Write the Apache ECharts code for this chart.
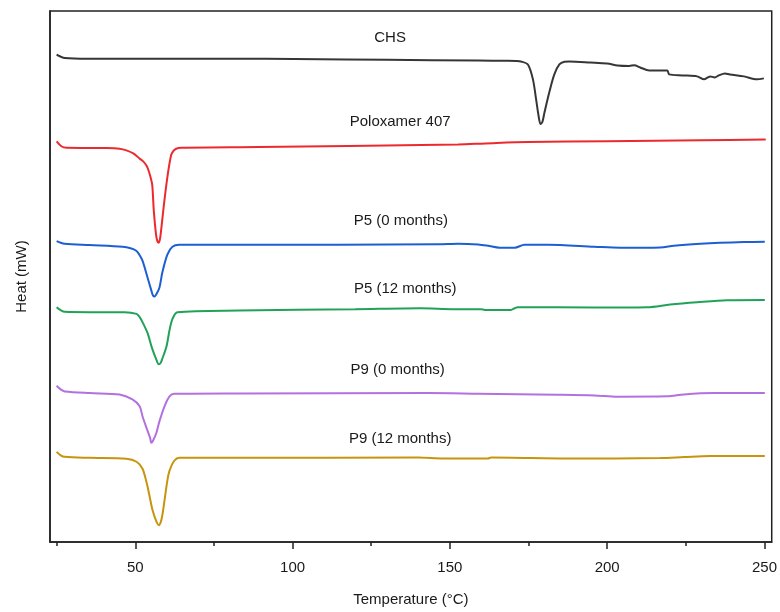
<!DOCTYPE html>
<html>
<head>
<meta charset="utf-8">
<script src="https://cdn.jsdelivr.net/npm/echarts@6/dist/echarts.min.js"></script>
<style>
html,body{margin:0;padding:0;background:#fff;}
#chart{width:780px;height:612px;}
</style>
</head>
<body>
<div id="chart"></div>
<script>
// ---- Data (temperature in °C, heat in arbitrary mW units) ----
var seriesNames = ['CHS', 'Poloxamer 407', 'P5 (0 months)', 'P5 (12 months)', 'P9 (0 months)', 'P9 (12 months)'];
var xTickValues = [50, 100, 150, 200, 250];
var xMinorTickValues = [25, 75, 125, 175, 225];

var chsT = [25.0, 27.6, 35, 60, 83, 100.4, 100.5, 130, 159, 168, 171, 172.6, 174.8, 176.4, 177.4, 178.2, 178.8, 179.4, 180.1, 181.6, 183.2, 184.8, 186.4, 188, 194.7, 200, 203.3, 207, 208.6, 210.5, 213.4, 219.1, 219.7, 224, 228.6, 230.8, 232, 232.7, 234.2, 235.5, 237.4, 239, 243.5, 247.6, 249.8];
var chsH = [-5.5, -5.85, -5.93, -5.93, -5.93, -5.95, -6.0, -6.03, -6.1, -6.13, -6.15, -6.2, -6.5, -8.0, -10.0, -11.7, -12.5, -12.3, -11.3, -9.3, -7.5, -6.5, -6.23, -6.2, -6.3, -6.4, -6.6, -6.65, -6.57, -6.8, -7.1, -7.1, -7.5, -7.6, -7.7, -8.0, -7.8, -7.7, -7.8, -7.6, -7.4, -7.5, -7.7, -8.0, -7.9];

var poloT = [25.0, 26.5, 28.2, 40.9, 45.0, 47.2, 49.5, 51.4, 52.6, 53.5, 54.0, 54.8, 55.4, 55.9, 56.6, 57.0, 57.4, 57.8, 58.2, 59.1, 60.3, 61.4, 62.2, 63.0, 64.5, 89.3, 117.8, 152.6, 161.2, 174.8, 200, 230, 250.4];
var poloH = [-14.27, -14.75, -14.9, -14.93, -15.0, -15.17, -15.5, -16.0, -16.3, -16.67, -17.0, -17.8, -18.67, -21.3, -23.67, -24.3, -24.5, -24.2, -23.3, -20.67, -17.67, -15.67, -15.2, -15.0, -14.9, -14.83, -14.73, -14.57, -14.47, -14.33, -14.25, -14.15, -14.07];

var p5aT = [25.0, 26.3, 27.6, 35.5, 46.0, 48.5, 50.3, 51.3, 52.3, 53.9, 55.1, 55.6, 56.1, 56.7, 57.7, 58.6, 60.2, 61.8, 64.0, 83, 146.3, 152.6, 159, 162.1, 165.8, 167.4, 170.6, 173.7, 181.1, 195.9, 204.2, 216.9, 221.2, 229.6, 235.8, 243.4, 250.1];
var p5aH = [-24.33, -24.5, -24.6, -24.73, -24.9, -25.05, -25.3, -25.7, -26.3, -28.0, -29.3, -29.8, -29.93, -29.7, -29.0, -27.5, -25.7, -24.9, -24.7, -24.7, -24.65, -24.6, -24.67, -24.8, -25.0, -25.0, -25.0, -24.7, -24.7, -24.9, -25.0, -24.97, -24.8, -24.6, -24.5, -24.43, -24.4];

var p5bT = [25.0, 26.3, 27.6, 35.5, 46.6, 50.4, 51.4, 52.3, 53.9, 55.2, 56.7, 57.5, 58.1, 58.6, 59.9, 60.9, 61.8, 63.4, 83.0, 119.9, 140.5, 151.6, 159.9, 161.1, 169.4, 170.6, 171.6, 195.9, 212.7, 220.0, 228.6, 238.1, 250.1];
var p5bH = [-31.0, -31.3, -31.47, -31.5, -31.5, -31.67, -32.0, -32.5, -33.6, -35.0, -36.3, -36.77, -36.6, -36.2, -35.0, -33.3, -32.2, -31.5, -31.33, -31.2, -31.1, -31.2, -31.2, -31.27, -31.27, -31.1, -31.0, -31.03, -31.0, -30.73, -30.5, -30.3, -30.27];

var p9aT = [25.0, 26.3, 27.6, 35.5, 45.0, 49.1, 51.4, 52.3, 53.6, 54.7, 55.1, 55.6, 56.7, 57.7, 59.3, 60.9, 62.4, 83, 143.1, 159.0, 184.3, 195.9, 203.3, 219.1, 224.4, 233.9, 250.1];
var p9aH = [-38.93, -39.3, -39.5, -39.67, -39.8, -40.3, -41.0, -42.0, -43.2, -44.17, -44.67, -44.5, -43.7, -42.5, -41.0, -40.0, -39.73, -39.7, -39.67, -39.73, -39.83, -39.9, -40.03, -40.0, -39.8, -39.67, -39.67];

var p9bT = [25.0, 26.3, 27.6, 35.5, 47.2, 50.4, 52.3, 53.6, 54.5, 55.5, 56.8, 57.5, 58.1, 58.6, 59.3, 60.2, 60.9, 62.4, 64.0, 83, 140, 147.9, 162.1, 163.1, 188.4, 216.9, 224.4, 232.7, 250.1];
var p9bH = [-45.6, -45.95, -46.1, -46.2, -46.3, -46.6, -47.3, -48.7, -50.0, -51.5, -52.7, -53.0, -52.7, -52.0, -50.5, -48.5, -47.5, -46.5, -46.2, -46.2, -46.17, -46.27, -46.27, -46.17, -46.27, -46.23, -46.13, -46.03, -46.03];

var seriesT = [chsT, poloT, p5aT, p5bT, p9aT, p9bT];
var seriesH = [chsH, poloH, p5aH, p5bH, p9aH, p9bH];
var colors = ['#363636', '#ec2a2d', '#1d5fd3', '#22a159', '#b271e0', '#c8940e'];
// label anchor (temperature, heat) for each curve name
var labelAnchors = [[131.0, -3.83], [134.2, -12.27], [134.4, -22.33], [135.8, -29.1], [133.4, -37.33], [134.2, -44.33]];

function zip(a, b) { return a.map(function (v, i) { return [v, b[i]]; }); }

var FONT = 'Liberation Sans, Arial, sans-serif';

var series = seriesNames.map(function (name, i) {
  return {
    name: name,
    type: 'line',
    data: zip(seriesT[i], seriesH[i]),
    showSymbol: false,
    smooth: 0.3,
    lineStyle: { color: colors[i], width: 2 },
    itemStyle: { color: colors[i] },
    z: 3,
    markPoint: {
      symbol: 'circle',
      symbolSize: 1,
      itemStyle: { color: 'rgba(0,0,0,0)' },
      label: {
        show: true,
        position: 'inside',
        formatter: name,
        color: '#1a1a1a',
        fontSize: 15,
        fontFamily: FONT
      },
      data: [{ coord: labelAnchors[i] }]
    }
  };
});

var chart = echarts.init(document.getElementById('chart'), null, { renderer: 'canvas' });
chart.setOption({
  animation: false,
  backgroundColor: '#ffffff',
  grid: {
    left: 50, right: 4, top: 11, bottom: 65,
    show: true, borderColor: '#222', borderWidth: 1.5, backgroundColor: 'transparent'
  },
  xAxis: [{
    type: 'value',
    min: 22.9, max: 252.3,
    name: 'Temperature (°C)',
    nameLocation: 'middle',
    nameGap: 50,
    nameTextStyle: { fontSize: 15, color: '#1a1a1a', fontFamily: FONT },
    axisLine: { show: true, lineStyle: { color: '#222', width: 1.5 } },
    axisTick: { show: true, length: 7, customValues: xTickValues, lineStyle: { color: '#222', width: 1.5 } },
    axisLabel: { show: true, customValues: xTickValues, margin: 18, fontSize: 15, color: '#1a1a1a', fontFamily: FONT },
    splitLine: { show: false }
  }, {
    type: 'value',
    position: 'bottom',
    min: 22.9, max: 252.3,
    axisLine: { show: false },
    axisTick: { show: true, length: 4, customValues: xMinorTickValues, lineStyle: { color: '#222', width: 1.5 } },
    axisLabel: { show: false },
    splitLine: { show: false }
  }],
  yAxis: {
    type: 'value',
    min: -54.7, max: -1.1,
    name: 'Heat (mW)',
    nameLocation: 'middle',
    nameRotate: 90,
    nameGap: 21,
    nameTextStyle: { fontSize: 15, color: '#1a1a1a', fontFamily: FONT },
    axisLine: { show: true, lineStyle: { color: '#222', width: 1.5 } },
    axisTick: { show: false },
    axisLabel: { show: false },
    splitLine: { show: false }
  },
  series: series
});
</script>
</body>
</html>
